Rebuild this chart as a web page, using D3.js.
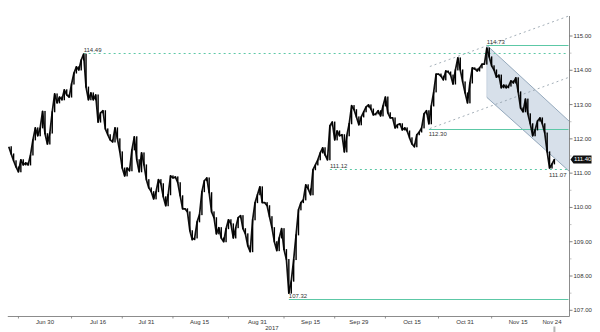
<!DOCTYPE html>
<html>
<head>
<meta charset="utf-8">
<style>
  body { margin: 0; background: #fff; }
  svg { display: block; font-family: "Liberation Sans", Arial, sans-serif; }
  .lbl { font-size: 6px; fill: #333; }
  .axis-line { stroke: #8c8c8c; stroke-width: 1; }
</style>
</head>
<body>
<svg width="600" height="332"></svg>
<script src="https://d3js.org/d3.v7.min.js"></script>
<script>
  // USD/JPY closes, two per trading day, first one is Jun 20 midday
  var closes = [
    111.77, 111.56, 111.36, 111.18, 111.04, 111.39, 111.24, 111.30, 111.24, 111.53,
    111.97, 112.32, 112.09, 112.32, 112.80, 112.15, 111.85, 112.17, 112.79, 113.31,
    113.05, 113.22, 113.14, 113.43, 113.28, 113.22, 113.60, 113.92, 114.10, 114.01,
    114.30, 114.47, 113.51, 113.14, 113.34, 113.14, 113.28, 112.49, 112.76, 112.82,
    112.29, 112.12, 111.97, 111.91, 112.32, 112.00, 111.62, 111.15, 110.92, 111.15,
    111.07, 111.68, 112.06, 111.39, 111.04, 111.59, 111.24, 110.81, 110.57, 110.46,
    110.25, 110.46, 110.81, 110.69, 110.31, 110.05, 110.37, 110.92, 110.86, 110.89,
    110.72, 110.34, 109.96, 109.96, 109.87, 109.32, 109.06, 109.11, 109.58, 109.79,
    110.46, 110.78, 110.86, 110.43, 109.87, 109.70, 109.23, 109.41, 109.11, 109.00,
    109.38, 109.64, 109.52, 109.11, 109.41, 109.70, 109.76, 109.38, 109.23, 108.88,
    108.71, 109.64, 110.14, 110.37, 110.60, 110.14, 110.14, 110.05, 109.73, 109.41,
    109.00, 108.74, 109.11, 109.38, 108.77, 108.48, 107.50, 107.85, 108.48, 109.20,
    109.93, 110.14, 110.22, 110.66, 110.54, 110.37, 111.10, 111.24, 111.39, 111.59,
    111.74, 111.53, 111.39, 112.38, 112.49, 111.97, 112.23, 112.09, 112.12, 111.62,
    112.09, 112.44, 112.97, 112.85, 112.64, 112.41, 112.64, 112.79, 112.93, 112.99,
    112.87, 112.70, 112.73, 112.82, 112.67, 112.96, 113.22, 112.76, 112.61, 112.61,
    112.32, 112.41, 112.44, 112.26, 112.32, 112.23, 112.03, 111.85, 111.77, 112.12,
    112.20, 112.32, 112.73, 112.82, 112.44, 112.96, 113.37, 113.89, 113.89, 113.83,
    113.72, 113.98, 113.95, 113.86, 113.60, 114.01, 114.36, 114.01, 113.66, 113.34,
    113.05, 113.63, 114.07, 114.04, 113.98, 114.07, 114.18, 114.18, 114.65, 114.39,
    114.13, 114.01, 113.80, 113.86, 113.49, 113.57, 113.49, 113.54, 113.69, 113.63,
    113.78, 113.37, 112.90, 112.79, 113.16, 112.73, 112.44, 112.09, 112.26, 112.52,
    112.61, 112.44, 112.17, 111.62, 111.15, 111.27, 111.40
  ];
  var lastPrice = 111.40;

  var firstDay = new Date(2017, 5, 20),
    lastDay = new Date(2017, 10, 24);

  var dateLabels = ["Jun 30", "Jul 16", "Jul 31", "Aug 15", "Aug 31", "Sep 15",
    "Sep 29", "Oct 15", "Oct 31", "Nov 15", "Nov 24"];
  var dateValues = [new Date(2017, 5, 30), new Date(2017, 6, 16), new Date(2017, 6, 31),
    new Date(2017, 7, 15), new Date(2017, 7, 31), new Date(2017, 8, 15), new Date(2017, 8, 29),
    new Date(2017, 9, 15), new Date(2017, 9, 31), new Date(2017, 10, 15), new Date(2017, 10, 24)];

  var priceTicks = [107, 108, 109, 110, 111, 112, 113, 114, 115];

  // horizontal levels: price, index of the bar where it starts, style
  var levelPrices = [114.49, 111.12, 107.32, 112.30, 114.73];
  var levelStart = [31, 133, 116, 174, 198];
  var levelDotted = [true, true, false, false, false];
  var extraLabelPrice = 111.07, extraLabelBar = 224;

  // trend lines in [trading day, price]
  var upperRay = [[87.7, 114.11], [116.6, 115.59]];
  var lowerRay = [[87.7, 112.30], [116.6, 113.80]];
  var channelTop = [[99.5, 114.73], [116.6, 112.51]];
  var channelBottom = [[99.5, 113.21], [116.6, 111.05]];

  var svg = d3.select("svg");

  var days = d3.timeDay.range(firstDay, d3.timeDay.offset(lastDay, 1))
    .filter(function(d) { var w = d.getDay(); return w > 0 && w < 6; });
  function dayIndex(date) { return d3.bisectLeft(days, date); }

  var x = d3.scaleLinear()
    .domain([dayIndex(dateValues[0]), dayIndex(dateValues[dateValues.length - 1])])
    .range([45, 552]);
  var y = d3.scaleLinear().domain([107, 115]).range([310.3, 36]);

  var axisX = 569.5, axisY = 316.5;
  function barT(i) { return (i + 1) / 2; }

  // descending channel
  svg.append("path")
    .attr("d", d3.line()([
      [x(channelTop[0][0]), y(channelTop[0][1])],
      [x(channelTop[1][0]), y(channelTop[1][1])],
      [x(channelBottom[1][0]), y(channelBottom[1][1])],
      [x(channelBottom[0][0]), y(channelBottom[0][1])]
    ]))
    .attr("fill", "#d7e0ea");
  [channelTop, channelBottom].forEach(function(l) {
    svg.append("line")
      .attr("x1", x(l[0][0])).attr("y1", y(l[0][1]))
      .attr("x2", x(l[1][0])).attr("y2", y(l[1][1]))
      .attr("stroke", "#7f97ad").attr("stroke-width", 0.8);
  });
  svg.append("line")
    .attr("x1", x(channelTop[0][0])).attr("y1", y(channelTop[0][1]))
    .attr("x2", x(channelBottom[0][0])).attr("y2", y(channelBottom[0][1]))
    .attr("stroke", "#b9c7d5").attr("stroke-width", 0.6);

  // dotted rays
  [upperRay, lowerRay].forEach(function(l) {
    svg.append("line")
      .attr("x1", x(l[0][0])).attr("y1", y(l[0][1]))
      .attr("x2", x(l[1][0])).attr("y2", y(l[1][1]))
      .attr("stroke", "#8d9aa6").attr("stroke-width", 0.8)
      .attr("stroke-dasharray", "2,3");
  });

  // levels
  levelPrices.forEach(function(p, k) {
    svg.append("line")
      .attr("x1", x(barT(levelStart[k]))).attr("x2", axisX - 1)
      .attr("y1", Math.round(y(p)) + 0.5).attr("y2", Math.round(y(p)) + 0.5)
      .attr("stroke", "#5cc8a6").attr("stroke-width", 1)
      .attr("stroke-dasharray", levelDotted[k] ? "2,3" : null);
  });

  // price candles (open = previous close)
  var g = svg.append("g");
  g.append("path")
    .datum(closes)
    .attr("fill", "none")
    .attr("stroke", "#111")
    .attr("stroke-width", 1.7)
    .attr("stroke-linejoin", "round")
    .attr("d", d3.line()
      .x(function(d, i) { return x(barT(i)); })
      .y(function(d) { return y(d); }));
  g.selectAll("rect")
    .data(closes.slice(1))
    .enter().append("rect")
    .attr("x", function(d, i) { return x(barT(i + 1)) - 0.7; })
    .attr("width", 1.4)
    .attr("y", function(d, i) { return y(Math.max(d, closes[i])) - 0.5; })
    .attr("height", function(d, i) { return Math.abs(y(d) - y(closes[i])) + 1; })
    .attr("fill", "#000");

  // level labels
  levelPrices.forEach(function(p, k) {
    var below = (p === 112.30);
    svg.append("text")
      .attr("class", "lbl")
      .attr("x", x(barT(levelStart[k])))
      .attr("y", y(p) + (below ? 7 : -1))
      .text(p.toFixed(2));
  });
  svg.append("text")
    .attr("class", "lbl")
    .attr("x", x(barT(extraLabelBar)) - 0.5)
    .attr("y", y(extraLabelPrice) + 6.5)
    .text(extraLabelPrice.toFixed(2));

  // right axis
  svg.append("line").attr("class", "axis-line")
    .attr("x1", axisX).attr("x2", axisX).attr("y1", 16).attr("y2", axisY);
  priceTicks.forEach(function(p) {
    svg.append("line")
      .attr("x1", axisX).attr("x2", axisX + 3)
      .attr("y1", y(p)).attr("y2", y(p))
      .attr("stroke", "#666").attr("stroke-width", 0.8);
    svg.append("text")
      .attr("class", "lbl")
      .attr("x", axisX + 4)
      .attr("y", y(p) + 2)
      .text(p.toFixed(2));
    if (p < 115) {
      svg.append("line")
        .attr("x1", axisX).attr("x2", axisX + 2)
        .attr("y1", y(p + 0.5)).attr("y2", y(p + 0.5))
        .attr("stroke", "#999").attr("stroke-width", 0.6);
    }
  });

  // last price tag
  var ly = y(lastPrice);
  svg.append("path")
    .attr("d", "M" + (axisX + 1) + "," + ly + "L" + (axisX + 4) + "," + (ly - 4) +
      "H" + (axisX + 22) + "V" + (ly + 4) + "H" + (axisX + 4) + "Z")
    .attr("fill", "#111");
  svg.append("text")
    .attr("x", axisX + 4.5).attr("y", ly + 2)
    .attr("font-size", "6px").attr("fill", "#fff")
    .text(lastPrice.toFixed(2));

  // bottom axis
  svg.append("line").attr("class", "axis-line")
    .attr("x1", x(barT(0)) - 1).attr("x2", axisX)
    .attr("y1", axisY).attr("y2", axisY);
  var labelT = dateValues.map(dayIndex);
  labelT.forEach(function(t, k) {
    svg.append("text")
      .attr("class", "lbl")
      .attr("text-anchor", "middle")
      .attr("x", x(t)).attr("y", axisY + 7.5)
      .text(dateLabels[k]);
    var mid = k === 0 ? t - 5.5 : (t + labelT[k - 1]) / 2;
    if (k < labelT.length - 1) {
      svg.append("line")
        .attr("x1", x(mid)).attr("x2", x(mid))
        .attr("y1", axisY).attr("y2", axisY + 2)
        .attr("stroke", "#777").attr("stroke-width", 0.8);
    }
  });
  svg.append("text")
    .attr("class", "lbl")
    .attr("text-anchor", "middle")
    .attr("x", x(dayIndex(new Date(2017, 8, 5))))
    .attr("y", axisY + 13.5)
    .text("2017");
  svg.append("rect")
    .attr("x", x(barT(closes.length - 1)) - 1).attr("y", axisY + 10)
    .attr("width", 2).attr("height", 6)
    .attr("fill", "#b5b5b5");
</script>
</body>
</html>
